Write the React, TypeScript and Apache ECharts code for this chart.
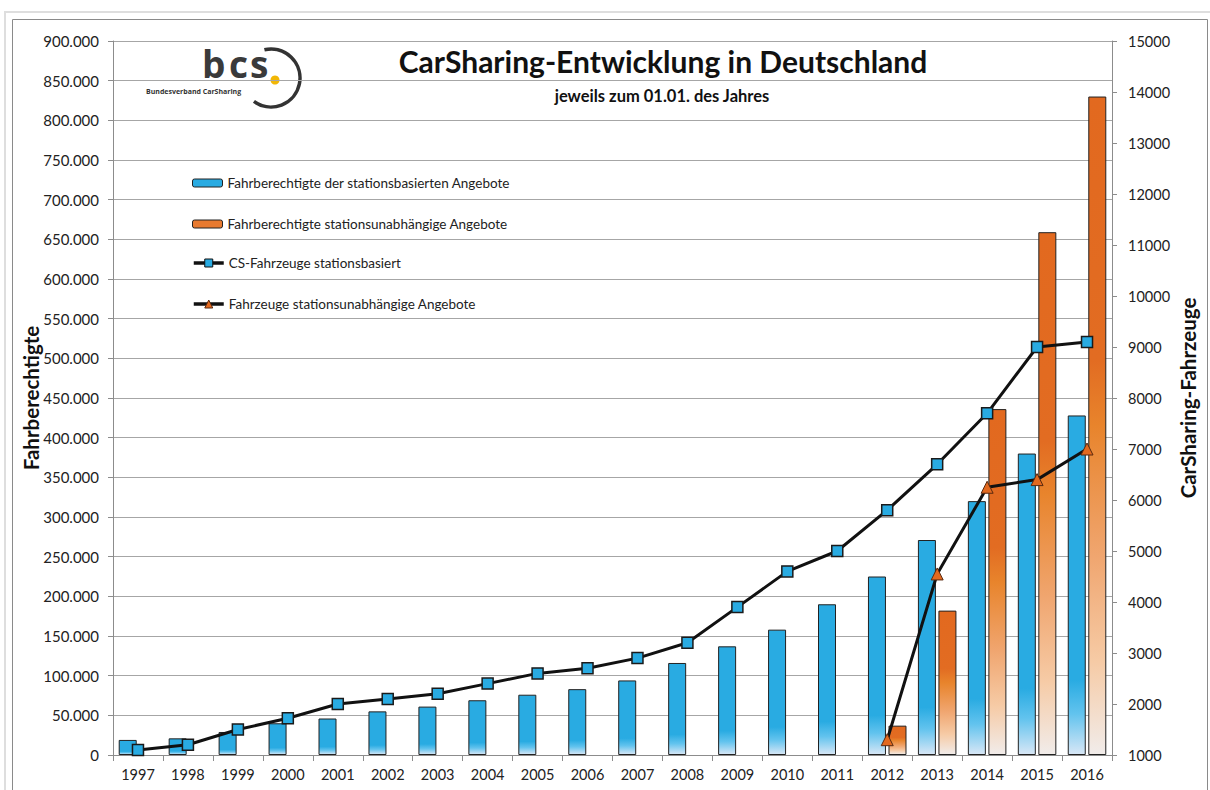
import React, { useEffect, useRef } from 'react';
import * as echarts from 'echarts';

const years = ['1997', '1998', '1999', '2000', '2001', '2002', '2003', '2004', '2005', '2006', '2007', '2008', '2009', '2010', '2011', '2012', '2013', '2014', '2015', '2016'];
const nutzerStationsbasiert = [19000, 21000, 29000, 40000, 46000, 55000, 61000, 69000, 76000, 83000, 94000, 116000, 137000, 158000, 190000, 225000, 271000, 320000, 380000, 428000];
const nutzerStationsunabhaengig = [null, null, null, null, null, null, null, null, null, null, null, null, null, null, null, 37000, 182000, 436000, 659000, 830000];
const fahrzeugeStationsbasiert = [1100, 1200, 1500, 1720, 2000, 2100, 2200, 2400, 2600, 2700, 2900, 3200, 3900, 4600, 5000, 5800, 6700, 7700, 9000, 9100];
const fahrzeugeStationsunabhaengig = [null, null, null, null, null, null, null, null, null, null, null, null, null, null, null, 1300, 4550, 6250, 6400, 7000];

const S1 = 'Fahrberechtigte der stationsbasierten Angebote';
const S2 = 'Fahrberechtigte stationsunabhängige Angebote';
const S3 = 'CS-Fahrzeuge stationsbasiert';
const S4 = 'Fahrzeuge stationsunabhängige Angebote';

const FONT = 'Lato';
const BLUE = '#29ABE2';
const ORANGE = '#E2691F';

function fmt(v: number) {
  return String(v).replace(/\B(?=(\d{3})+(?!\d))/g, '.');
}

export default function App() {
  const ref = useRef<HTMLDivElement>(null);
  useEffect(() => {
    document.body.style.margin = '0';
    const chart = echarts.init(ref.current as HTMLDivElement, null, { renderer: 'svg' });
    const blueGrad = new echarts.graphic.LinearGradient(0, 0, 0, 1, [
      { offset: 0, color: BLUE },
      { offset: 0.78, color: BLUE },
      { offset: 0.88, color: '#62C3EE' },
      { offset: 1, color: '#D8E7F6' },
    ]);
    const orangeGrad = new echarts.graphic.LinearGradient(0, 0, 0, 1, [
      { offset: 0, color: ORANGE },
      { offset: 0.4, color: '#E26C22' },
      { offset: 0.5, color: '#E8842C' },
      { offset: 0.7, color: '#F0A670' },
      { offset: 0.86, color: '#F6CBA6' },
      { offset: 1, color: '#F1ECEA' },
    ]);
    const legendBase = {
      left: 187,
      itemWidth: 30,
      itemHeight: 8,
      selectedMode: false,
      textStyle: { fontFamily: FONT, fontSize: 13.5, color: '#222' },
      itemGap: 0,
    };
    const option: any = {
      animation: false,
      backgroundColor: '#fff',
      textStyle: { fontFamily: FONT },
      grid: { left: 113, right: 98, top: 41, bottom: 35, containLabel: false },
      legend: [
        { ...legendBase, top: 171, data: [{ name: S1, itemStyle: { color: BLUE, borderColor: '#222', borderWidth: 1 } }] },
        { ...legendBase, top: 212, data: [{ name: S2, itemStyle: { color: '#E87A30', borderColor: '#222', borderWidth: 1 } }] },
        {
          ...legendBase,
          top: 251,
          itemHeight: 10,
          data: [{ name: S3, lineStyle: { width: 3.5, color: '#111' }, itemStyle: { color: BLUE, borderColor: '#111', borderWidth: 1 } }],
        },
        {
          ...legendBase,
          top: 292,
          itemHeight: 10,
          data: [{ name: S4, lineStyle: { width: 3.5, color: '#111' }, itemStyle: { color: ORANGE, borderColor: '#5a2a10', borderWidth: 1 } }],
        },
      ],
      xAxis: {
        type: 'category',
        data: years,
        boundaryGap: true,
        axisLine: { lineStyle: { color: '#8c8c8c', width: 1 } },
        axisTick: { show: true, interval: 0, length: 6, lineStyle: { color: '#8c8c8c' } },
        axisLabel: { fontFamily: FONT, fontSize: 14.5, color: '#222', margin: 12, interval: 0 },
      },
      yAxis: [
        {
          type: 'value',
          min: 0,
          max: 900000,
          interval: 50000,
          position: 'left',
          name: 'Fahrberechtigte',
          nameLocation: 'middle',
          nameGap: 72,
          nameMoveOverlap: false,
          nameRotate: 90,
          nameTextStyle: { fontFamily: FONT, fontSize: 20.5, fontWeight: 'bold', color: '#111' },
          axisLine: { show: true, lineStyle: { color: '#8c8c8c' } },
          axisTick: { show: true, length: 5, lineStyle: { color: '#8c8c8c' } },
          axisLabel: { fontFamily: FONT, fontSize: 15, color: '#222', margin: 14, formatter: (v: number) => fmt(v) },
          splitLine: { show: true, lineStyle: { color: '#a6a6a6', width: 1 } },
        },
        {
          type: 'value',
          min: 1000,
          max: 15000,
          interval: 1000,
          position: 'right',
          name: 'CarSharing-Fahrzeuge',
          nameLocation: 'middle',
          nameGap: 65,
          nameMoveOverlap: false,
          nameRotate: 90,
          nameTextStyle: { fontFamily: FONT, fontSize: 20.5, fontWeight: 'bold', color: '#111' },
          axisLine: { show: true, lineStyle: { color: '#8c8c8c' } },
          axisTick: { show: true, length: 5, lineStyle: { color: '#8c8c8c' } },
          axisLabel: { fontFamily: FONT, fontSize: 14.5, color: '#222', margin: 16, formatter: (v: number) => String(v) },
          splitLine: { show: false },
        },
      ],
      series: [
        {
          name: S1,
          type: 'bar',
          yAxisIndex: 0,
          data: nutzerStationsbasiert,
          barWidth: 18,
          barGap: '14%',
          itemStyle: { color: blueGrad, borderColor: '#222', borderWidth: 1 },
          z: 2,
        },
        {
          name: S2,
          type: 'bar',
          yAxisIndex: 0,
          data: nutzerStationsunabhaengig,
          barWidth: 18,
          barGap: '14%',
          itemStyle: { color: orangeGrad, borderColor: '#222', borderWidth: 1 },
          z: 2,
        },
        {
          name: S3,
          type: 'line',
          yAxisIndex: 1,
          data: fahrzeugeStationsbasiert,
          symbol: 'rect',
          symbolSize: 11,
          lineStyle: { color: '#111', width: 3 },
          itemStyle: { color: BLUE, borderColor: '#1a1a1a', borderWidth: 1.5 },
          z: 4,
        },
        {
          name: S4,
          type: 'line',
          yAxisIndex: 1,
          data: fahrzeugeStationsunabhaengig,
          symbol: 'triangle',
          symbolSize: 12,
          lineStyle: { color: '#111', width: 3 },
          itemStyle: { color: ORANGE, borderColor: '#5a2a10', borderWidth: 1 },
          z: 5,
        },
      ],
      graphic: [
        { type: 'rect', z: 100, shape: { x: 5, y: 12, width: 1230, height: 820 }, style: { fill: 'none', stroke: '#dedede', lineWidth: 2 } },
        { type: 'rect', z: 100, shape: { x: 12.5, y: 19.5, width: 1195, height: 820 }, style: { fill: 'none', stroke: '#8a8a8a', lineWidth: 1 } },
        {
          type: 'group',
          z: 100,
          children: [
            { type: 'rect', shape: { x: 147, y: 46, width: 153, height: 64 }, style: { fill: '#fff' } },
            { type: 'text', x: 202, y: 45, style: { text: 'b', font: 'bold 37px "Open Sans"', fill: '#3a3a3a', verticalAlign: 'top' } },
            { type: 'text', x: 229, y: 45, style: { text: 'c', font: 'bold 37px "Open Sans"', fill: '#3a3a3a', verticalAlign: 'top' } },
            { type: 'text', x: 250, y: 45, style: { text: 's', font: 'bold 37px "Open Sans"', fill: '#3a3a3a', verticalAlign: 'top' } },
            { type: 'circle', shape: { cx: 275, cy: 80, r: 4.5 }, style: { fill: '#F2B705' } },
            {
              type: 'arc',
              shape: { cx: 271, cy: 78, r: 29, startAngle: -1.8, endAngle: 2.2, clockwise: true },
              style: { stroke: '#333', lineWidth: 3.5, fill: 'none' },
            },
            { type: 'text', x: 146, y: 88, style: { text: 'Bundesverband CarSharing', font: 'bold 7px "Open Sans"', fill: '#333', verticalAlign: 'top' } },
          ],
        },
        {
          type: 'text',
          z: 100,
          x: 663,
          y: 46,
          style: { text: 'CarSharing-Entwicklung in Deutschland', font: 'bold 30px Lato', fill: '#111', textAlign: 'center', verticalAlign: 'top' },
        },
        {
          type: 'text',
          z: 100,
          x: 662,
          y: 87,
          style: { text: 'jeweils zum 01.01. des Jahres', font: 'bold 16.5px Lato', fill: '#111', textAlign: 'center', verticalAlign: 'top' },
        },
      ],
    };
    chart.setOption(option);
    return () => chart.dispose();
  }, []);
  return <div ref={ref} style={{ width: 1210, height: 790 }} />;
}
